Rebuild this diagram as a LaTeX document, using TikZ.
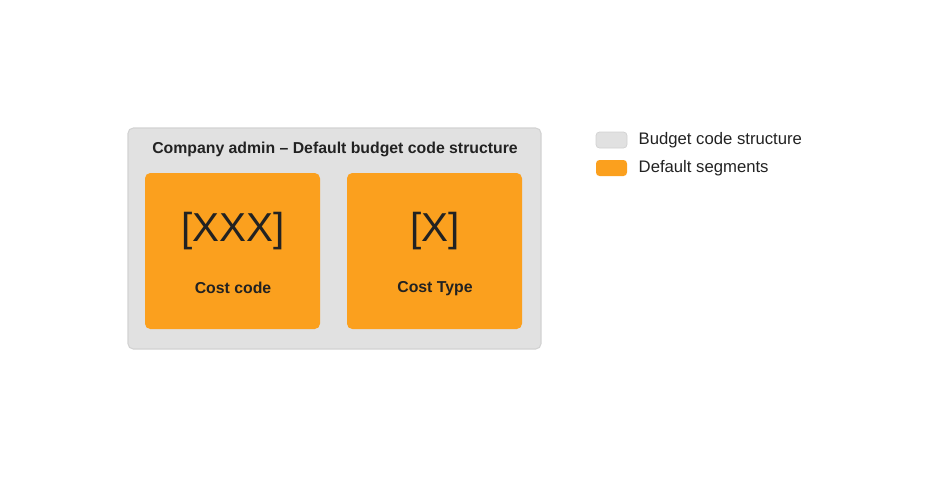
\documentclass[tikz,border=0pt]{standalone}
\usepackage{fontspec}
\setmainfont{Liberation Sans}
\usetikzlibrary{positioning}
\definecolor{boxgray}{HTML}{E1E1E1}
\definecolor{edgegray}{HTML}{D2D2D2}
\definecolor{segorange}{HTML}{FBA01E}
\definecolor{inkdark}{HTML}{222222}
\tikzset{
x=0.02cm, y=-0.02cm, % pixel units, y downwards
every node/.style={text=inkdark},
structure/.style={draw=edgegray, fill=boxgray, rounded corners=3pt, line width=0.6pt},
segment/.style={fill=segorange, rounded corners=3pt},
swatch/.style={rounded corners=2pt, minimum width=0.62cm, minimum height=0.32cm, inner sep=0pt},
legendtext/.style={right=0.22cm, font=\fontsize{9.5}{11}\selectfont, inner sep=0pt},
}
\begin{document}
\begin{tikzpicture}
    \useasboundingbox (0,0) rectangle (934,478);
    % outer structure
    \draw[structure] (128,128) rectangle (541,349);
    \node[font=\bfseries\fontsize{9}{11}\selectfont] (title) at (335,149) {Company admin – Default budget code structure};
    % segments
    \fill[segment] (145,173) rectangle (320,329);
    \fill[segment] (347,173) rectangle (522,329);
    \node[font=\fontsize{23}{26}\selectfont] (codeA) at (233,231) {[XXX]};
    \node[font=\bfseries\fontsize{9}{11}\selectfont] (nameA) at (233,288) {Cost code};
    \node[font=\fontsize{23}{26}\selectfont] (codeB) at (435,231) {[X]};
    \node[font=\bfseries\fontsize{9}{11}\selectfont] (nameB) at (435,289) {Cost Type};
    % legend
    \node[swatch, fill=boxgray, draw=edgegray] (keyA) at (611.5,140) {};
    \node[legendtext] (labelA) at (keyA.east) {Budget code structure};
    \node[swatch, fill=segorange] (keyB) at (611.5,168) {};
    \node[legendtext] (labelB) at (keyB.east) {Default segments};
\end{tikzpicture}
\end{document}
